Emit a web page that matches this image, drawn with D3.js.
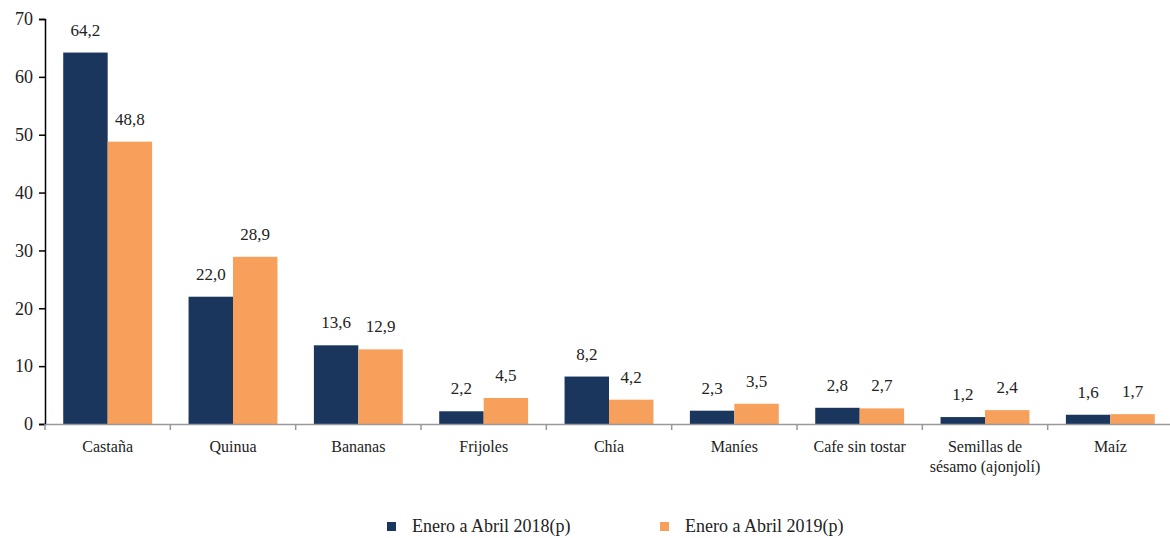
<!DOCTYPE html>
<html><head><meta charset="utf-8">
<script src="https://cdn.jsdelivr.net/npm/d3@7"></script>
<style>body{margin:0;background:#fff}svg{display:block}svg text{font-family:"Liberation Serif","Times New Roman",serif !important;fill:#222}</style>
</head><body><svg id="c" width="1170" height="538" font-family="Liberation Serif"></svg>
<script>
const categories = ["Castaña","Quinua","Bananas","Frijoles","Chía","Maníes","Cafe sin tostar","Semillas de\nsésamo (ajonjolí)","Maíz"];
const series2018 = [64.2,22.0,13.6,2.2,8.2,2.3,2.8,1.2,1.6];
const series2019 = [48.8,28.9,12.9,4.5,4.2,3.5,2.7,2.4,1.7];
const seriesNames = ["Enero a Abril 2018(p)","Enero a Abril 2019(p)"];
const yTicks = [0,10,20,30,40,50,60,70];
const colors = ["#1A365D","#F6A05C"];
const FONT = "Liberation Serif";

const svg = d3.select("#c");
const x0 = d3.scaleBand().domain(categories).range([45,1173]).paddingInner(0).paddingOuter(0);
const y = d3.scaleLinear().domain([0,70]).range([424,19]);
const x1 = d3.scaleBand().domain([0,1]).range([0,x0.bandwidth()]).paddingOuter(0.41).paddingInner(0);
const fmt = v => d3.format(".1f")(v).replace(".",",");

// y axis
const ya = svg.append("g").attr("transform","translate(45,0)")
  .call(d3.axisLeft(y).tickValues(yTicks).tickSize(6).tickPadding(6).tickFormat(d3.format("d")));
ya.attr("font-family",FONT);
ya.select(".domain").attr("stroke","#000").attr("stroke-width",1.5);
ya.selectAll(".tick line").attr("stroke","#000").attr("stroke-width",1.5);
ya.selectAll(".tick text").attr("font-size",18).attr("fill","#222").attr("font-family",FONT);

const data = categories.map((c,i)=>({c,vals:[series2018[i],series2019[i]]}));
const g = svg.append("g").selectAll("g").data(data).join("g").attr("transform",d=>`translate(${x0(d.c)},0)`);
g.selectAll("rect").data(d=>d.vals.map((v,k)=>({v,k}))).join("rect")
  .attr("x",d=>x1(d.k)).attr("width",x1.bandwidth())
  .attr("y",d=>y(d.v)).attr("height",d=>y(0)-y(d.v))
  .attr("fill",d=>colors[d.k]);
g.selectAll("text.v").data(d=>d.vals.map((v,k)=>({v,k}))).join("text").attr("class","v")
  .attr("x",d=>x1(d.k)+x1.bandwidth()/2).attr("y",d=>y(d.v)-17)
  .attr("text-anchor","middle").attr("font-size",17).attr("font-family",FONT).text(d=>fmt(d.v));

// x axis
const xa = svg.append("g").attr("transform","translate(0,424)")
  .call(d3.axisBottom(x0).tickSize(0).tickFormat(""));
xa.select(".domain").attr("stroke","#999").attr("stroke-width",1.5);
xa.selectAll(".tick").remove();
const bounds = categories.map(c=>x0(c)).concat([x0.range()[1]]);
svg.append("g").selectAll("line").data(bounds).join("line")
  .attr("x1",d=>d).attr("x2",d=>d).attr("y1",424).attr("y2",430).attr("stroke","#999").attr("stroke-width",1.5);
svg.append("g").selectAll("text").data(categories).join("text")
  .attr("text-anchor","middle").attr("font-size",16).attr("font-family",FONT)
  .attr("transform",c=>`translate(${x0(c)+x0.bandwidth()/2},452)`)
  .each(function(c){
    const lines=c.split("\n");
    d3.select(this).selectAll("tspan").data(lines).join("tspan").attr("x",0).attr("dy",(d,i)=>i?20:0).text(d=>d);
  });

// legend
const legX = [387,660];
const lg = svg.append("g").selectAll("g").data(seriesNames).join("g").attr("transform",(d,i)=>`translate(${legX[i]},522)`);
lg.append("rect").attr("width",9).attr("height",9).attr("fill",(d,i)=>colors[i]);
lg.append("text").attr("x",25).attr("y",10).attr("font-size",18).attr("font-family",FONT).text(d=>d);
</script></body></html>
